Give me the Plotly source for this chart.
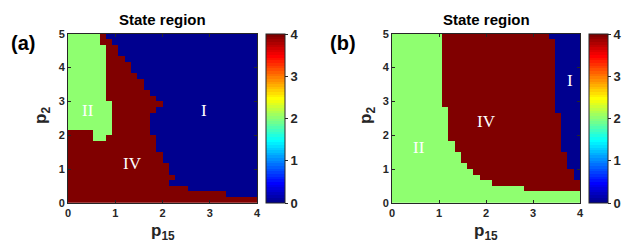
import numpy as np
import plotly.graph_objects as go

# ---------------- data ----------------
NX, NY = 30, 30                      # grid cells along p15 and p2
x_ticks = [0, 1, 2, 3, 4]
y_ticks = [0, 1, 2, 3, 4, 5]
cbar_ticks = [0, 1, 2, 3, 4]
STATE_I, STATE_II, STATE_IV = 0, 2, 4

# panel (a): per row of p2 (bottom -> top), column index where region I starts
a_blue_start = [30, 25, 19, 16, 17, 16, 16, 15, 15, 14,
                14, 14, 13, 13, 13, 13, 14, 15, 14, 13,
                12, 12, 11, 10, 10, 9, 8, 8, 7, 6]
# panel (a): region II column span per row [start, end)
a_green_start = [0] * 11 + [4, 4] + [0] * 17
a_green_end = [0] * 11 + [6, 7] + [7] * 5 + [6] * 10 + [5] * 2

# panel (b): region II columns [0, end) per row, region I from start per row
b_green_end = [30, 30, 21, 16, 14, 13, 12, 11, 11, 10, 10] + [9] * 6 + [8] * 13
b_blue_start = [30] * 4 + [29] * 2 + [28] * 3 + [27] * 7 + [26] * 13 + [25]

p15 = (np.arange(NX) + 0.5) * 4.0 / NX
p2 = (np.arange(NY) + 0.5) * 5.0 / NY

za = np.full((NY, NX), STATE_IV, dtype=float)
zb = np.full((NY, NX), STATE_IV, dtype=float)
for j in range(NY):
    za[j, a_blue_start[j]:] = STATE_I
    za[j, a_green_start[j]:a_green_end[j]] = STATE_II
    zb[j, :b_green_end[j]] = STATE_II
    zb[j, b_blue_start[j]:] = STATE_I


# MATLAB jet(64), stepwise like MATLAB rendering
def jet(m=64):
    n = int(np.ceil(m / 4))
    u = np.concatenate([np.arange(1, n + 1) / n, np.ones(n - 1), np.arange(n, 0, -1) / n])
    g = int(np.ceil(n / 2)) - (1 if m % 4 == 1 else 0) + np.arange(1, len(u) + 1)
    r = g + n
    b = g - n
    g = g[g <= m]
    r = r[r <= m]
    b = b[b >= 1]
    J = np.zeros((m, 3))
    J[r - 1, 0] = u[:len(r)]
    J[g - 1, 1] = u[:len(g)]
    J[b - 1, 2] = u[len(u) - len(b):]
    return J


J = jet(64)
cs = []
eps = 1e-6
for i, c in enumerate(J):
    col = "rgb(%d,%d,%d)" % tuple(int(round(v * 255)) for v in c)
    lo = 0.0 if i == 0 else i / 64 - eps
    hi = 1.0 if i == 63 else (i + 1) / 64 - eps
    cs.append([lo, col])
    cs.append([hi, col])

FONT = "Liberation Sans"
AX = "#262626"

fig = go.Figure()
cb_common = dict(
    thickness=19, len=0.676, lenmode="fraction", y=0.188, yanchor="bottom",
    xanchor="left", outlinewidth=1, outlinecolor=AX,
    tickvals=cbar_ticks, ticks="outside", ticklen=3, tickcolor=AX,
    tickfont=dict(family=FONT, size=13, color=AX, weight="bold"),
    xpad=0, ypad=0,
)
fig.add_trace(go.Heatmap(x=p15, y=p2, z=za, zmin=0, zmax=4, colorscale=cs,
                         xaxis="x", yaxis="y", hoverinfo="skip",
                         colorbar=dict(x=266 / 639, **cb_common)))
fig.add_trace(go.Heatmap(x=p15, y=p2, z=zb, zmin=0, zmax=4, colorscale=cs,
                         xaxis="x2", yaxis="y2", hoverinfo="skip",
                         colorbar=dict(x=589 / 639, **cb_common)))

ax_common = dict(showline=True, linecolor=AX, linewidth=1, mirror="allticks",
                 ticks="inside", ticklen=3, tickcolor=AX, showgrid=False,
                 zeroline=False,
                 tickfont=dict(family=FONT, size=11, color=AX, weight="bold"))
y_dom = [0.188, 0.865]
fig.update_layout(
    width=639, height=250, margin=dict(l=0, r=0, t=0, b=0, autoexpand=False),
    paper_bgcolor="white", plot_bgcolor="white", showlegend=False,
    xaxis=dict(domain=[68 / 639, 257 / 639], range=[0, 4], tickvals=x_ticks, anchor="y", **ax_common),
    yaxis=dict(domain=y_dom, range=[0, 5], tickvals=y_ticks, anchor="x", **ax_common),
    xaxis2=dict(domain=[392 / 639, 580 / 639], range=[0, 4], tickvals=x_ticks, anchor="y2", **ax_common),
    yaxis2=dict(domain=y_dom, range=[0, 5], tickvals=y_ticks, anchor="x2", **ax_common),
)

ann = []
tfont = dict(family=FONT, size=15, color="black")
lfont = dict(family=FONT, size=17, color=AX)
for cx in (162.5, 486):
    ann.append(dict(text="<b>State region</b>", x=cx / 639, y=1 - 20 / 250, xref="paper", yref="paper",
                    showarrow=False, font=tfont, xanchor="center", yanchor="middle"))
    ann.append(dict(text="<b>p<sub>15</sub></b>", x=cx / 639, y=1 - 232 / 250, xref="paper", yref="paper",
                    showarrow=False, font=lfont, xanchor="center", yanchor="middle"))
for cx in (42, 367):
    ann.append(dict(text="<b>p<sub>2</sub></b>", x=cx / 639, y=1 - 116 / 250, xref="paper", yref="paper",
                    showarrow=False, font=lfont, textangle=-90, xanchor="center", yanchor="middle"))
for cx, t in ((23, "(a)"), (343, "(b)")):
    ann.append(dict(text="<b>" + t + "</b>", x=cx / 639, y=1 - 43 / 250, xref="paper", yref="paper",
                    showarrow=False, font=dict(family=FONT, size=20, color="black"),
                    xanchor="center", yanchor="middle"))

rfont = dict(family="Liberation Serif", size=17, color="white")
for t, x, y in (("I", 2.87, 2.74), ("II", 0.42, 2.74), ("IV", 1.37, 1.17)):
    ann.append(dict(text=t, x=x, y=y, xref="x", yref="y", showarrow=False, font=rfont))
for t, x, y in (("I", 3.79, 3.61), ("II", 0.58, 1.63), ("IV", 2.0, 2.42)):
    ann.append(dict(text=t, x=x, y=y, xref="x2", yref="y2", showarrow=False, font=rfont))

fig.update_layout(annotations=ann)
fig.write_html("out.html", config={"displayModeBar": False},
               post_script="document.body.style.margin='0px';")
